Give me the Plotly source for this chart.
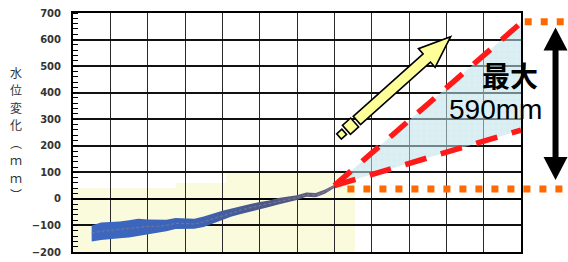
import math
import plotly.graph_objects as go

# ---------------- data ----------------
years = [1870, 1875, 1880, 1885, 1890, 1895, 1900, 1905, 1910, 1915, 1920, 1925, 1930,
         1935, 1940, 1945, 1950, 1955, 1960, 1965, 1970, 1975, 1980, 1985, 1990, 1995, 2000]
level_mid = [-129, -122, -118, -114, -110, -107, -104, -103, -100, -92, -92, -94, -86,
             -75, -62, -51, -42, -33, -25, -18, -9, -2, 5, 16, 14, 27, 47]
level_upper = [-100, -89, -87, -85, -80, -75, -78, -79, -79, -72, -73, -75, -66,
               -55, -45, -36, -27, -19, -12, -6, 3, 8, 14, 24, 22, 35, 53]
level_lower = [-160, -155, -151, -148, -145, -141, -134, -128, -122, -113, -112, -112, -106,
               -94, -80, -66, -57, -48, -39, -31, -21, -12, -4, 8, 6, 19, 41]

proj_years = [2000, 2100]
proj_high = [50, 663]
proj_low = [50, 259]

bound_top = 667          # upper orange dotted line
bound_bottom = 37        # lower orange dotted line
bound_top_start = 2102
bound_bottom_start = 2007

observed_regions = [     # (start year, end year, top value) of the pale background
    (1860, 1915, 40),
    (1915, 1942, 60),
    (1942, 2011, 100),
]

arrow_tail = (2002.5, 235)   # yellow trend arrow (year, mm)
arrow_tip = (2062.3, 611)
range_arrow = (2118.5, 645, 71)  # black double arrow: year, top mm, bottom mm

label_max = "最大"
label_value = "590mm"
y_title_chars = ["水", "位", "変", "化", "︵", "ｍ", "ｍ", "︶"]

x_range = [1860, 2100]
y_range = [-200, 700]
y_ticks = [-200, -100, 0, 100, 200, 300, 400, 500, 600, 700]

# ---------------- layout geometry ----------------
W, H = 568, 262
ML, MR, MT, MB = 73, 0, 13, 10
PLOT_W = 448
PAPER_W = W - ML - MR
PAPER_H = H - MT - MB
dom_main = PLOT_W / PAPER_W
x2_range = [x_range[0], x_range[0] + (x_range[1] - x_range[0]) / dom_main]

PX_PER_YEAR = PLOT_W / (x_range[1] - x_range[0])
PX_PER_MM = PAPER_H / (y_range[1] - y_range[0])


def to_px(x, y):
    return (x - x_range[0]) * PX_PER_YEAR, (y_range[1] - y) * PX_PER_MM


def to_data(px, py):
    return x_range[0] + px / PX_PER_YEAR, y_range[1] - py / PX_PER_MM


def poly_path(pts):
    s = "M " + " L ".join(f"{x:.3f},{y:.3f}" for x, y in pts) + " Z"
    return s


fig = go.Figure()

# observed band
fig.add_trace(go.Scatter(
    x=years + years[::-1], y=level_upper + level_lower[::-1],
    mode="lines", fill="toself", line=dict(width=0, color="rgba(0,0,0,0)"),
    fillgradient=dict(type="horizontal",
                      colorscale=[[0, "#3b68c2"], [0.45, "#3d62b4"],
                                  [0.7, "#4b5788"], [0.9, "#5a5a7c"], [1, "#7a6a88"]]),
    hoverinfo="skip", showlegend=False, xaxis="x", yaxis="y"))
fig.add_trace(go.Scatter(
    x=years, y=level_mid, mode="lines",
    line=dict(color="rgba(120,120,145,0.85)", width=1.2, dash="3px,2px"),
    hoverinfo="skip", showlegend=False, xaxis="x", yaxis="y"))

# projection fan
fig.add_trace(go.Scatter(
    x=proj_years + proj_years[::-1][:1], y=[proj_low[0], proj_high[1], proj_low[1]],
    mode="lines", fill="toself", line=dict(width=0, color="rgba(0,0,0,0)"),
    fillcolor="rgba(170,218,226,0.55)",
    fillpattern=dict(shape="+", fgcolor="rgba(140,195,205,0.6)",
                     bgcolor="rgba(190,228,234,0.55)", size=6, solidity=0.08),
    hoverinfo="skip", showlegend=False, xaxis="x", yaxis="y"))
for ys in (proj_high, proj_low):
    fig.add_trace(go.Scatter(
        x=proj_years, y=ys, mode="lines",
        line=dict(color="#ff1a1a", width=5.5, dash="22px,15px"),
        hoverinfo="skip", showlegend=False, xaxis="x", yaxis="y"))

# orange bounds (wider overlay subplot so they can run past the frame)
for start, val in ((bound_bottom_start, bound_bottom), (bound_top_start, bound_top)):
    fig.add_trace(go.Scatter(
        x=[start, x2_range[1]], y=[val, val], mode="lines",
        line=dict(color="#ff6a00", width=7, dash="7px,9px"),
        hoverinfo="skip", showlegend=False, xaxis="x2", yaxis="y2"))

shapes = []
for x0, x1, top in observed_regions:
    shapes.append(dict(type="rect", xref="x", yref="y", x0=x0, x1=x1, y0=y_range[0], y1=top,
                       fillcolor="#fafadc", line=dict(width=0), layer="below"))

# yellow arrow built in pixel space then mapped to data units
tx, ty = to_px(*arrow_tail)
hx, hy = to_px(*arrow_tip)
L = math.hypot(hx - tx, hy - ty)
ux, uy = (hx - tx) / L, (hy - ty) / L
nx, ny = -uy, ux


def seg(t0, t1, hw):
    pts = []
    for t, s in ((t0, -1), (t1, -1), (t1, 1), (t0, 1)):
        pts.append(to_data(tx + ux * t + nx * hw * s, ty + uy * t + ny * hw * s))
    return pts


pieces = [seg(0, 7, 3.5), seg(10, 21, 6)]
hb = L - 32
shaft_head = [
    (24, -5.5), (hb, -5.5), (hb, -12.5), (L, 0), (hb, 12.5), (hb, 5.5), (24, 5.5)]
pieces.append([to_data(tx + ux * t + nx * w, ty + uy * t + ny * w) for t, w in shaft_head])
for p in pieces:
    shapes.append(dict(type="path", xref="x", yref="y", path=poly_path(p),
                       fillcolor="#ffff99", line=dict(color="black", width=1.6), layer="above"))

# black double arrow
ax, atop, abot = range_arrow
cx, ptop = to_px(ax, atop)
_, pbot = to_px(ax, abot)
HL, HW, SW = 23, 12, 3
dbl = [(cx, ptop), (cx + HW, ptop + HL), (cx + SW, ptop + HL), (cx + SW, pbot - HL),
       (cx + HW, pbot - HL), (cx, pbot), (cx - HW, pbot - HL), (cx - SW, pbot - HL),
       (cx - SW, ptop + HL), (cx - HW, ptop + HL)]
shapes.append(dict(type="path", xref="x2", yref="y2",
                   path=poly_path([to_data(a, b) for a, b in dbl]),
                   fillcolor="black", line=dict(width=0), layer="above"))

annotations = [
    dict(text=label_max, x=2094.1, y=467, xref="x", yref="y", showarrow=False,
         font=dict(family="Noto Sans CJK JP", size=28, color="black", weight="bold")),
    dict(text=label_value, x=2086.1, y=335, xref="x", yref="y", showarrow=False,
         font=dict(family="Liberation Sans", size=28, color="black")),
]
title_top_px, title_step_px = 72, 17.5
for i, ch in enumerate(y_title_chars):
    py = title_top_px + i * title_step_px - MT
    annotations.append(dict(
        text=ch, xref="paper", yref="paper", x=0, xshift=-57,
        y=1 - py / PAPER_H, xanchor="center", yanchor="middle", showarrow=False,
        font=dict(family="Noto Sans CJK JP", size=12, color="#333")))

fig.update_layout(
    width=W, height=H,
    margin=dict(l=ML, r=MR, t=MT, b=MB, pad=0),
    paper_bgcolor="white", plot_bgcolor="rgba(0,0,0,0)",
    showlegend=False,
    shapes=shapes, annotations=annotations,
    xaxis=dict(domain=[0, dom_main], range=x_range, tick0=1860, dtick=20,
               showticklabels=False, ticks="", showgrid=True, gridcolor="#2a2a2a",
               gridwidth=1.4, showline=True, linecolor="black", linewidth=2, mirror=True,
               zeroline=False, fixedrange=True),
    yaxis=dict(domain=[0, 1], range=y_range, tickvals=y_ticks, ticks="",
               showgrid=True, gridcolor="#111", gridwidth=1.6,
               zeroline=True, zerolinecolor="black", zerolinewidth=2.4,
               showline=True, linecolor="black", linewidth=2, mirror=True,
               tickfont=dict(family="DejaVu Sans", size=10, color="#333", weight="bold"),
               ticklabelstandoff=8,
               minor=dict(dtick=20, ticks="inside", ticklen=5, tickcolor="black",
                          tickwidth=1, showgrid=False),
               fixedrange=True),
    xaxis2=dict(domain=[0, 1], range=x2_range, anchor="y2", visible=False, fixedrange=True),
    yaxis2=dict(domain=[0, 1], range=y_range, anchor="x2", visible=False, fixedrange=True),
)

fig.write_html("out.html", config={"displayModeBar": False},
               post_script="document.body.style.margin='0';document.body.style.overflow='hidden';")
